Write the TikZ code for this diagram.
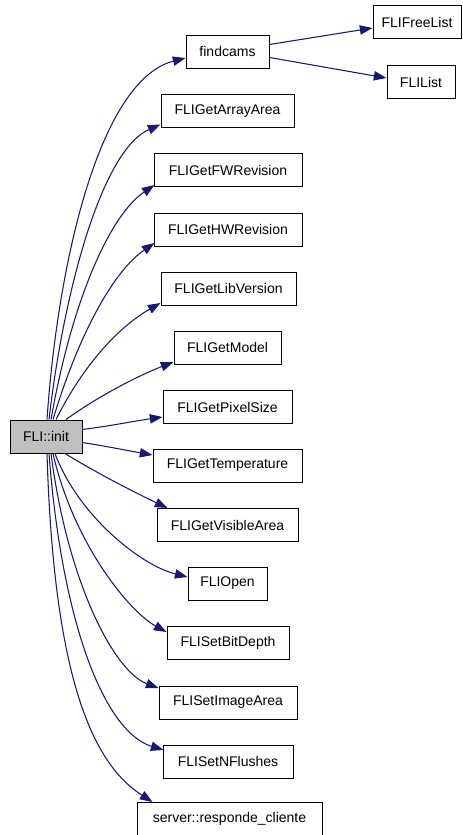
\documentclass[tikz,border=0pt]{standalone}
\usepackage{fontspec}
\setmainfont{Liberation Sans}
\usetikzlibrary{arrows.meta,calc}
\definecolor{edgeblue}{HTML}{191970}
\definecolor{callerfill}{HTML}{BFBFBF}
\begin{document}
\begin{tikzpicture}[x=0.75pt,y=-0.75pt,
  fn/.style={draw=black,line width=0.75pt,fill=white,minimum height=24.75pt,
    inner xsep=0pt,inner ysep=0pt,font=\fontsize{10.5}{12}\selectfont},
  w/.style={minimum width=#1*0.75pt},
  call/.style={draw=edgeblue,line width=0.8pt,
    -{Triangle[length=9.5pt,width=7pt,fill=edgeblue]}}]
\useasboundingbox (0,0) rectangle (462,835);

% functions
\node[fn,w=72,fill=callerfill] (init) at (46,436.5) {FLI::init};
\node[fn,w=83]  (findcams) at (227.5,51.5) {findcams};
\node[fn,w=88]  (freelist) at (417,22)     {FLIFreeList};
\node[fn,w=68]  (flilist)  at (421,82)     {FLIList};
\node[fn,w=133] (arr)   at (227.5,111)   {FLIGetArrayArea};
\node[fn,w=148] (fw)    at (228,170)     {FLIGetFWRevision};
\node[fn,w=148] (hw)    at (228,229.5)   {FLIGetHWRevision};
\node[fn,w=135] (lib)   at (228.5,288.5) {FLIGetLibVersion};
\node[fn,w=107] (model) at (227.5,347.5) {FLIGetModel};
\node[fn,w=129] (pix)   at (227.5,407)   {FLIGetPixelSize};
\node[fn,w=149] (temp)  at (227.5,465.5) {FLIGetTemperature};
\node[fn,w=141] (vis)   at (227.5,525)   {FLIGetVisibleArea};
\node[fn,w=79]  (open)  at (227.5,583.5) {FLIOpen};
\node[fn,w=122] (bits)  at (228,643)     {FLISetBitDepth};
\node[fn,w=138] (img)   at (228,702.5)   {FLISetImageArea};
\node[fn,w=130] (nfl)   at (228,761.5)   {FLISetNFlushes};
\node[fn,w=185] (srv)   at (229.5,819)   {server::responde\_cliente};

% calls made by findcams
\draw[call] ($(findcams.east)+(0,-7)$) -- ($(freelist.west)+(0,6)$);
\draw[call] ($(findcams.east)+(0,6)$) -- ($(flilist.west)+(0,-4)$);

% calls made by FLI::init
\draw[call] ($(init.north)+(1,0)$) .. controls (58,260) and (100,80) .. ($(findcams.west)+(0,6.5)$);
\draw[call] ($(init.north)+(3,0)$) .. controls (64,290) and (102,150) .. ($(arr.west)+(0,13.5)$);
\draw[call] ($(init.north)+(5,0)$) .. controls (72,300) and (110,215) .. ($(fw.west)+(1,15)$);
\draw[call] ($(init.north)+(7,0)$) .. controls (80,330) and (115,270) .. ($(hw.west)+(1,13.5)$);
\draw[call] ($(init.north)+(10,0)$) .. controls (86,360) and (122,325) .. ($(lib.west)+(0,14.5)$);
\draw[call] ($(init.north)+(20,0)$) .. controls (100,395) and (140,375) .. ($(model.west)+(0,14.5)$);
\draw[call] ($(init.east)+(0,-7)$) .. controls (110,426) and (135,421) .. ($(pix.west)+(0,10)$);
\draw[call] ($(init.east)+(0,6)$) .. controls (105,446) and (130,451) .. ($(temp.west)+(0,-10.5)$);
\draw[call] ($(init.south)+(19,0)$) .. controls (100,475) and (140,495) .. ($(vis.north west)+(11,0)$);
\draw[call] ($(init.south)+(9,0)$) .. controls (78,515) and (140,565) .. ($(open.west)+(0,-6.5)$);
\draw[call] ($(init.south)+(7,0)$) .. controls (74,545) and (130,612) .. ($(bits.west)+(0,-11)$);
\draw[call] ($(init.south)+(5,0)$) .. controls (68,585) and (115,672) .. ($(img.west)+(0,-14.5)$);
\draw[call] ($(init.south)+(3,0)$) .. controls (62,625) and (105,732) .. ($(nfl.west)+(1,-11.5)$);
\draw[call] ($(init.south)+(1,0)$) .. controls (54,685) and (95,765) .. ($(srv.north west)+(16,0)$);
\end{tikzpicture}
\end{document}
